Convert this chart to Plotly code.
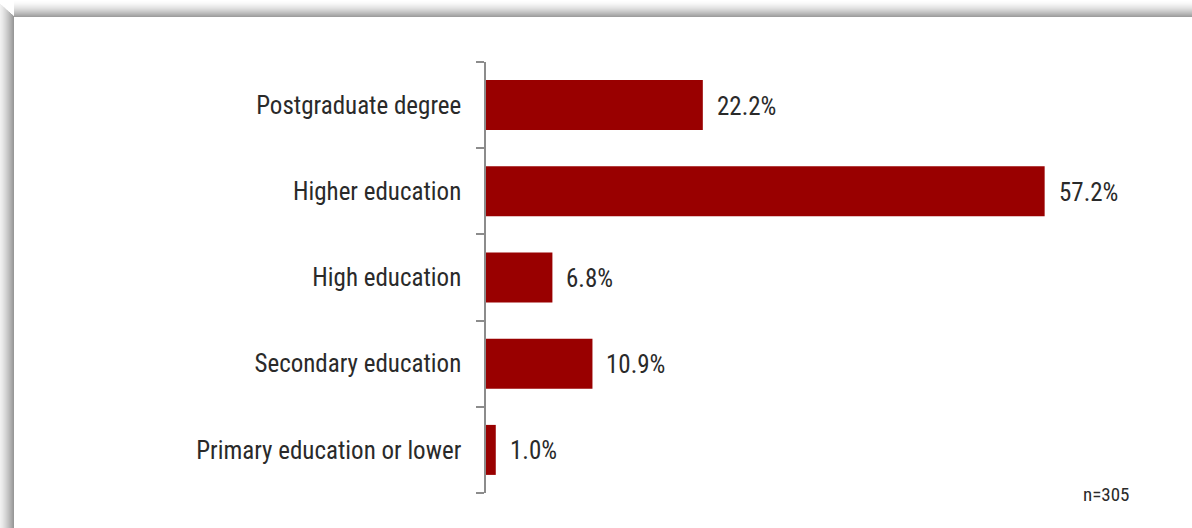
import plotly.graph_objects as go

# Education level of respondents
categories = [
    "Postgraduate degree",
    "Higher education",
    "High education",
    "Secondary education",
    "Primary education or lower",
]
shares = [22.2, 57.2, 6.8, 10.9, 1.0]
value_labels = ["22.2%", "57.2%", "6.8%", "10.9%", "1.0%"]
sample_note = "n=305"

W, H = 1192, 528
M_L, M_R, M_T, M_B = 486, 120, 62, 35
PW, PH = W - M_L - M_R, H - M_T - M_B

FONT = "Liberation Sans Narrow, Arial Narrow, Roboto Condensed, Liberation Sans, sans-serif"
BAR = "#990000"
AXIS = "#8c8c8c"
TEXT = "#2a2a2a"


def px_x(x):
    return (x - M_L) / PW


def px_y(y):
    return (H - M_B - y) / PH


fig = go.Figure(
    go.Bar(
        x=shares,
        y=categories,
        orientation="h",
        marker=dict(color=BAR, line=dict(width=0)),
        hoverinfo="skip",
    )
)

annotations = [
    dict(
        x=v, y=c, text=t, xref="x", yref="y",
        xanchor="left", yanchor="middle", xshift=12, yshift=-1, showarrow=False,
        font=dict(family=FONT, size=25, color=TEXT),
    )
    for c, v, t in zip(categories, shares, value_labels)
]
annotations.append(
    dict(
        x=px_x(1131), y=px_y(494), xref="paper", yref="paper",
        xanchor="right", yanchor="middle", text=sample_note, showarrow=False,
        font=dict(family=FONT, size=19, color=TEXT),
    )
)

# Drop-shadow frame around the panel: graded bands along the top and left edges
shapes = []
band_top = 17
band_left = 14
for i in range(band_top):
    g = int(255 - (255 - 158) * (i / (band_top - 1)) ** 1.6)
    shapes.append(dict(
        type="rect", xref="paper", yref="paper", layer="above",
        x0=px_x(band_left), x1=px_x(W + 5),
        y0=px_y(i), y1=px_y(i + 1),
        fillcolor=f"rgb({g},{g},{g})", line=dict(width=0),
    ))
for i in range(band_left):
    g = int(240 - (240 - 152) * (i / (band_left - 1)) ** 1.3)
    shapes.append(dict(
        type="rect", xref="paper", yref="paper", layer="above",
        x0=px_x(i), x1=px_x(i + 1),
        y0=px_y(H + 5), y1=px_y(max(0, 4 + i * 0.9)),
        fillcolor=f"rgb({g},{g},{g})", line=dict(width=0),
    ))

fig.update_layout(
    width=W, height=H,
    margin=dict(l=M_L, r=M_R, t=M_T, b=M_B),
    paper_bgcolor="white", plot_bgcolor="white",
    bargap=0.42,
    showlegend=False,
    font=dict(family=FONT, size=25, color=TEXT),
    xaxis=dict(
        range=[0, 60], visible=False, fixedrange=True,
    ),
    yaxis=dict(
        categoryorder="array", categoryarray=categories[::-1],
        showline=True, linecolor=AXIS, linewidth=1.5,
        ticks="outside", tickson="boundaries", ticklen=8,
        tickcolor=AXIS, tickwidth=1.5,
        ticklabelstandoff=18,
        showgrid=False, zeroline=False, fixedrange=True,
        tickfont=dict(family=FONT, size=25, color=TEXT),
    ),
    annotations=annotations,
    shapes=shapes,
)

fig.write_html("out.html", config=dict(displayModeBar=False))
